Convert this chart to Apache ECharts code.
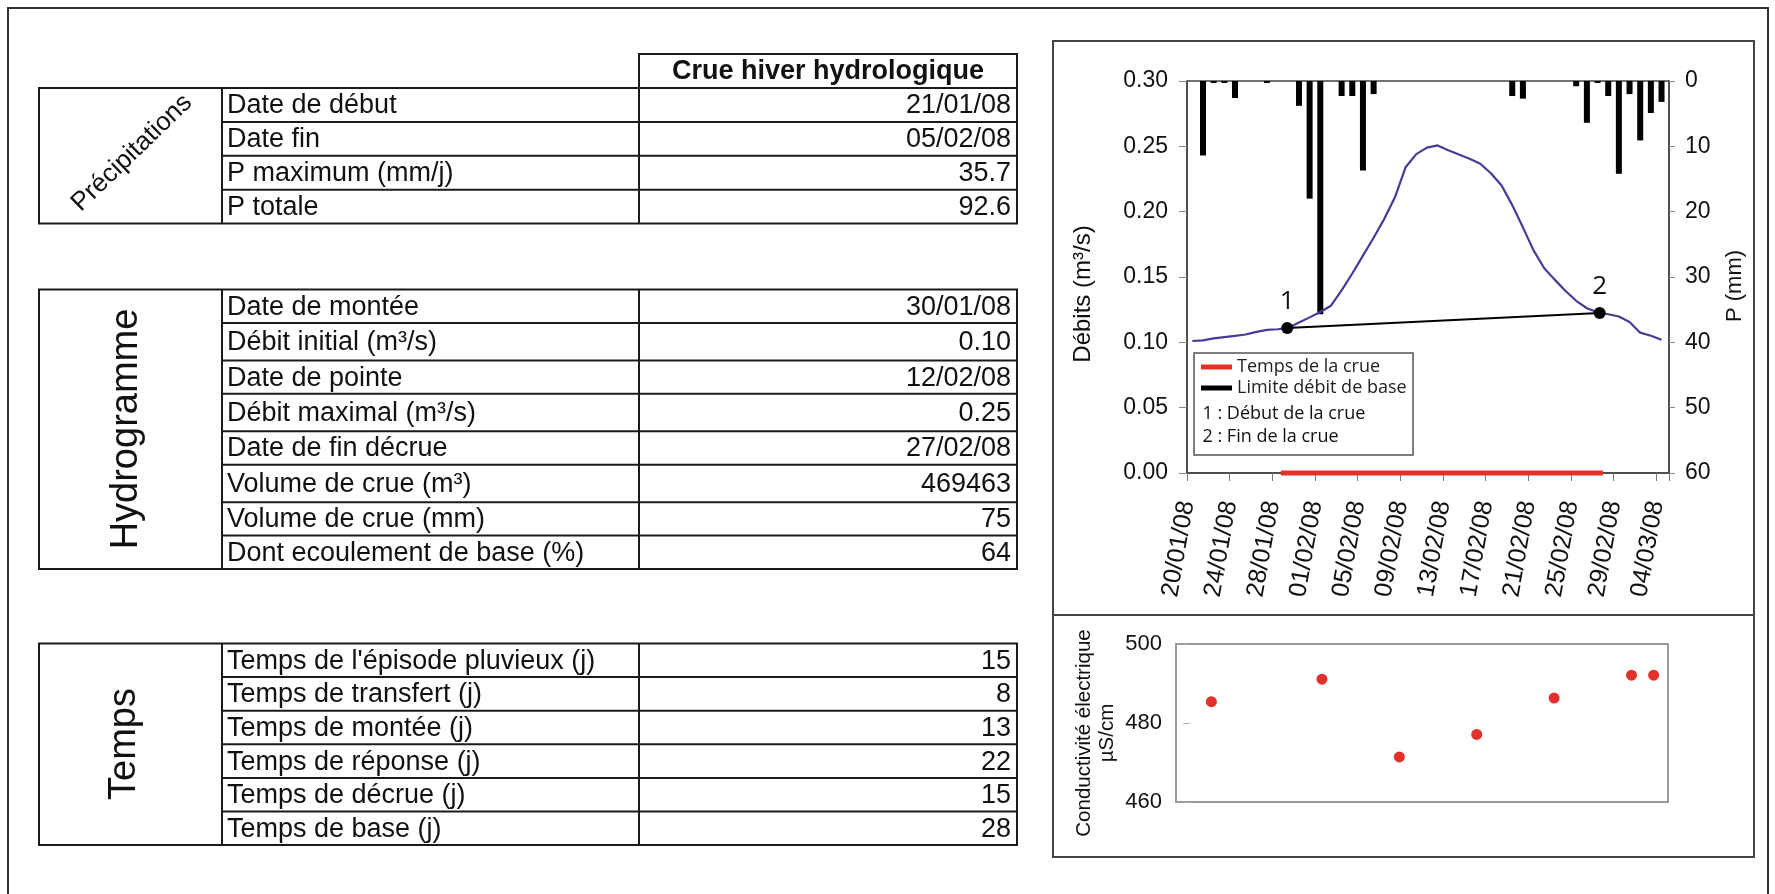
<!DOCTYPE html>
<html><head><meta charset="utf-8">
<script src="https://cdn.jsdelivr.net/npm/echarts@6/dist/echarts.min.js"></script>
<style>html,body{margin:0;padding:0;background:#fff}#c{width:1775px;height:894px}</style>
</head><body><div id="c"></div>
<script>
// ---------------- DATA ----------------
const tickLabels = ['20/01/08','24/01/08','28/01/08','01/02/08','05/02/08','09/02/08','13/02/08','17/02/08','21/02/08','25/02/08','29/02/08','04/03/08'];

const rainDates = ['21/01/08','22/01/08','23/01/08','24/01/08','27/01/08','30/01/08','31/01/08','01/02/08','03/02/08','04/02/08','05/02/08','06/02/08','19/02/08','20/02/08','25/02/08','26/02/08','27/02/08','28/02/08','29/02/08','01/03/08','02/03/08','03/03/08','04/03/08'];
const rainMm = [11.4,0.3,0.3,2.6,0.3,3.8,18.0,35.7,2.3,2.3,13.7,2.0,2.3,2.7,0.8,6.4,0.3,2.3,14.2,2.0,9.1,4.9,3.2];

const dischargeStart = '20/01/08'; // daily values from this date
const dischargeQ = [0.1010,0.1015,0.1030,0.1040,0.1050,0.1060,0.1080,0.1095,0.1100,0.1110,
  0.1151,0.1191,0.1232,0.1280,0.1398,0.1527,0.1664,0.1800,0.1945,0.2110,
  0.2340,0.2440,0.2490,0.2507,0.2470,0.2437,0.2405,0.2367,0.2294,0.2200,
  0.2050,0.1880,0.1704,0.1567,0.1478,0.1393,0.1318,0.1261,0.1230,0.1215,
  0.1198,0.1155,0.1074,0.1050,0.1020];

const crueMarkDays = [9.4, 38.7];      // days after 20/01/08
const crueMarkQ = [0.111, 0.1224];
const crueMarkLabels = ['1','2'];
const crueSpanDays = [8.8, 39.0];

const condDates = ['22/01/08','01/02/08','08/02/08','15/02/08','22/02/08','29/02/08','02/03/08'];
const condValues = [485.4,491.1,471.4,477.1,486.3,492.1,492.1];

const precipLabels = ['Date de début','Date fin','P maximum (mm/j)','P totale'];
const precipValues = ['21/01/08','05/02/08','35.7','92.6'];
const hydroLabels = ['Date de montée','Débit initial (m³/s)','Date de pointe','Débit maximal (m³/s)','Date de fin décrue','Volume de crue (m³)','Volume de crue (mm)','Dont ecoulement de base (%)'];
const hydroValues = ['30/01/08','0.10','12/02/08','0.25','27/02/08','469463','75','64'];
const tempsLabels = ["Temps de l'épisode pluvieux (j)",'Temps de transfert (j)','Temps de montée (j)','Temps de réponse (j)','Temps de décrue (j)','Temps de base (j)'];
const tempsValues = ['15','8','13','22','15','28'];

// ---------------- HELPERS ----------------
function dayOf(s){const p=s.split('/').map(Number);return (Date.UTC(2000+p[2],p[1]-1,p[0])-Date.UTC(2008,0,20))/864e5;}
const ARIAL = '"Liberation Sans", Arial, sans-serif';
const MYR = '"Open Sans", "Noto Sans", sans-serif';

const X0=39, XC1=222, XC2=639, X1=1017;
const els=[];
function txt(x,y,text,font,align,rot){
  const e={type:'text',x:x,y:y,style:{text:text,font:font,fill:'#111',align:align||'left',textAlign:align||'left',verticalAlign:'middle',textVerticalAlign:'middle'},z:10};
  if(rot) e.rotation=rot;
  els.push(e);
}
function ln(x1,y1,x2,y2,w,c){els.push({type:'line',shape:{x1:x1,y1:y1,x2:x2,y2:y2},style:{stroke:c||'#1a1a1a',lineWidth:w||2},z:10});}
function rect(x,y,w,h,c,lw){els.push({type:'rect',shape:{x:x,y:y,width:w,height:h},style:{fill:'none',stroke:c||'#1a1a1a',lineWidth:lw||2},z:10});}

function table(top,labels,values,heights,groupText,groupFont,groupX,groupY,groupRot){
  let y=top; const H=heights.reduce((a,b)=>a+b,0);
  rect(X0,top,X1-X0,H);
  ln(XC1,top,XC1,top+H); ln(XC2,top,XC2,top+H);
  labels.forEach((l,i)=>{
    const h=heights[i];
    if(i>0) ln(XC1,y,X1,y);
    txt(XC1+5,y+h/2+1,l,'27px '+ARIAL,'left');
    txt(X1-6,y+h/2+1,values[i],'27px '+ARIAL,'right');
    y+=h;
  });
  txt(groupX,groupY,groupText,groupFont,'center',groupRot);
}
// header
rect(XC2,54,X1-XC2,34);
txt((XC2+X1)/2,71.5,'Crue hiver hydrologique','bold 27px '+ARIAL,'center');
table(88,precipLabels,precipValues,precipLabels.map(()=>33.9),'Précipitations','26px '+ARIAL,132,153,44*Math.PI/180);
table(289.5,hydroLabels,hydroValues,hydroLabels.map(l=>l.indexOf('³')>=0?37.5:33.4),'Hydrogramme','38px '+ARIAL,127,429,Math.PI/2);
table(643.5,tempsLabels,tempsValues,tempsLabels.map(()=>33.6),'Temps','38px '+ARIAL,125,744,Math.PI/2);

// frames
rect(8,8,1760,920,'#333',2);
rect(1053,41,701,574,'#444',2);
rect(1053,615,701,242,'#444',2);
// legend box + texts
rect(1194,353,219,102,'#555',1.5);
txt(1202.5,413.5,'1 : Début de la crue','18px '+MYR,'left');
txt(1202.5,437,'2 : Fin de la crue','18px '+MYR,'left');

// ---------------- SERIES DATA ----------------
const rainData = rainDates.map((d,i)=>[dayOf(d)+0.5, rainMm[i]]);
const d0 = dayOf(dischargeStart);
const qData = dischargeQ.map((q,i)=>[d0+i+0.5, q]);
const baseData = crueMarkDays.map((d,i)=>[d, crueMarkQ[i]]);
const markData = crueMarkDays.map((d,i)=>({value:[d, crueMarkQ[i]], name:crueMarkLabels[i]}));
const spanData = crueSpanDays.map(d=>[d,0]);
const condData = condDates.map((d,i)=>[dayOf(d), condValues[i]]);

const chart = echarts.init(document.getElementById('c'));
chart.setOption({
  animation:false,
  backgroundColor:'#fff',
  graphic:{elements:els},
  legend:{data:['Temps de la crue','Limite débit de base'],orient:'vertical',left:1201,top:357,itemWidth:31,itemHeight:5,itemGap:1,icon:'rect',padding:0,selectedMode:false,
    textStyle:{fontFamily:MYR,fontSize:18,color:'#222',lineHeight:20}},
  grid:[
    {left:1187,top:81,width:482,height:392,show:true,borderColor:'#444',borderWidth:1.5},
    {left:1176,top:644,width:492,height:158,show:true,borderColor:'#9a9a9a',borderWidth:2}
  ],
  xAxis:[
    {gridIndex:0,type:'value',min:0,max:45.2,interval:4,
      axisLine:{lineStyle:{color:'#444',width:1.5}},axisTick:{length:8,lineStyle:{color:'#777'}},splitLine:{show:false},
      axisLabel:{rotate:80,margin:28,fontSize:25,color:'#111',fontFamily:ARIAL,
        formatter:v=>(Math.abs(v%4)<1e-9 && tickLabels[Math.round(v/4)])||''}},
    {gridIndex:1,type:'value',min:-1.2,max:43.3,show:false}
  ],
  yAxis:[
    {gridIndex:0,type:'value',min:0,max:0.30,interval:0.05,name:'Débits (m³/s)',nameLocation:'middle',nameGap:92,nameRotate:90,
      nameTextStyle:{fontSize:24,fontFamily:ARIAL,color:'#111',padding:[0,34,0,0]},
      axisLine:{show:true,lineStyle:{color:'#444',width:1.5}},axisTick:{show:true,length:8,lineStyle:{color:'#888'}},splitLine:{show:false},
      axisLabel:{formatter:v=>v.toFixed(2),fontSize:23,margin:19,color:'#111',fontFamily:ARIAL}},
    {gridIndex:0,type:'value',position:'right',min:0,max:60,interval:10,inverse:true,name:'P (mm)',nameLocation:'middle',nameGap:55,nameRotate:90,
      nameTextStyle:{fontSize:22,fontFamily:ARIAL,color:'#111',padding:[0,18,0,0]},
      axisLine:{show:true,lineStyle:{color:'#444',width:1.5}},axisTick:{show:true,length:6,lineStyle:{color:'#888'}},splitLine:{show:false},
      axisLabel:{fontSize:23,margin:16,color:'#111',fontFamily:ARIAL}},
    {gridIndex:1,type:'value',min:460,max:500,interval:20,name:'Conductivité électrique\nµS/cm',nameLocation:'middle',nameGap:57,nameRotate:90,
      nameTextStyle:{fontSize:20.5,lineHeight:23,fontFamily:ARIAL,color:'#111',align:'center',padding:[0,20,0,0]},
      axisLine:{show:false},axisTick:{show:true,length:6,lineStyle:{color:'#aaa'}},splitLine:{show:false},
      axisLabel:{fontSize:22,margin:14,color:'#111',fontFamily:ARIAL}}
  ],
  series:[
    {type:'bar',name:'P',xAxisIndex:0,yAxisIndex:1,data:rainData,barWidth:6,itemStyle:{color:'#000'},z:3},
    {type:'line',name:'Débit',xAxisIndex:0,yAxisIndex:0,data:qData,showSymbol:false,symbol:'none',lineStyle:{color:'#4a3a98',width:2.2},z:4},
    {type:'line',name:'Limite débit de base',xAxisIndex:0,yAxisIndex:0,data:baseData,symbol:'none',color:'#000',lineStyle:{color:'#000',width:2},z:5},
    {type:'scatter',name:'marks',xAxisIndex:0,yAxisIndex:0,data:markData,symbolSize:12,itemStyle:{color:'#000',opacity:1},z:6,
      label:{show:true,position:'top',distance:7,formatter:p=>p.name,fontSize:26,fontFamily:MYR,color:'#111'}},
    {type:'line',name:'Temps de la crue',xAxisIndex:0,yAxisIndex:0,data:spanData,symbol:'none',color:'#e8302a',lineStyle:{color:'#e8302a',width:5},clip:false,z:7},
    {type:'scatter',name:'Conductivité',xAxisIndex:1,yAxisIndex:2,data:condData,symbolSize:11,itemStyle:{color:'#e3302a',opacity:1}}
  ]
});
</script></body></html>
